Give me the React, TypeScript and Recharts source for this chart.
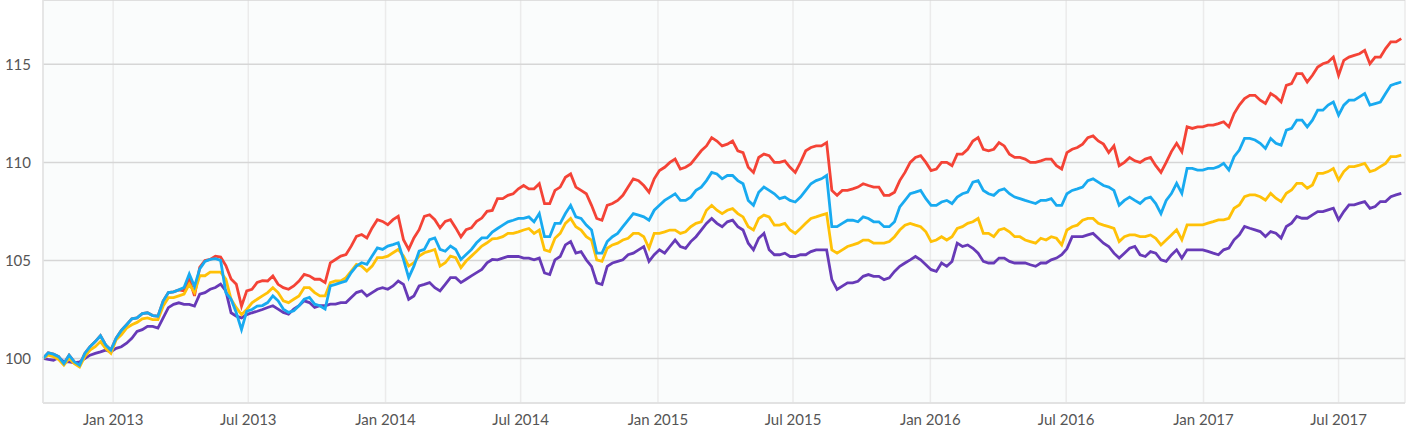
import { LineChart, Line, XAxis, YAxis, CartesianGrid } from 'recharts'

const DAY = 24 * 60 * 60 * 1000
const START = Date.UTC(2012, 8, 29)
const STEP_DAYS = 7

const TICKS = [
  Date.UTC(2013, 0, 1),
  Date.UTC(2013, 6, 1),
  Date.UTC(2014, 0, 1),
  Date.UTC(2014, 6, 1),
  Date.UTC(2015, 0, 1),
  Date.UTC(2015, 6, 1),
  Date.UTC(2016, 0, 1),
  Date.UTC(2016, 6, 1),
  Date.UTC(2017, 0, 1),
  Date.UTC(2017, 6, 1),
]
const MONTHS = ['Jan', 'Feb', 'Mar', 'Apr', 'May', 'Jun', 'Jul', 'Aug', 'Sep', 'Oct', 'Nov', 'Dec']

// readings every other week (weeks 0, 2, 4, ...)
const red = [
  100.0, 100.22, 99.74, 99.83, 100.26, 100.86, 100.69, 101.03, 101.72, 102.07,
  102.33, 102.16, 103.36, 103.5, 104.05, 104.65, 105.05, 105.17, 104.05, 102.67,
  103.53, 103.97, 104.21, 103.61, 103.7, 104.29, 104.04, 103.87, 105.05, 105.3,
  106.23, 106.15, 107.08, 106.82, 107.25, 105.56, 106.57, 107.33, 106.66, 107.08,
  106.2, 106.66, 107.16, 107.55, 108.15, 108.4, 108.82, 108.65, 107.9, 108.57,
  109.24, 108.74, 108.4, 107.14, 107.81, 108.06, 108.74, 109.07, 108.48, 109.58,
  110.0, 109.66, 109.92, 110.59, 111.26, 110.84, 111.09, 110.5, 109.49, 110.42,
  110.0, 110.08, 109.49, 110.59, 110.84, 111.01, 108.32, 108.57, 108.74, 108.82,
  108.74, 108.32, 109.07, 110.0, 110.34, 109.58, 110.0, 109.83, 110.42, 111.09,
  110.67, 110.67, 110.84, 110.25, 110.17, 110.0, 110.17, 109.83, 110.5, 110.76,
  111.26, 111.09, 110.5, 109.83, 110.25, 110.0, 110.25, 109.49, 110.55, 110.54,
  111.73, 111.81, 111.9, 112.07, 112.49, 113.25, 113.42, 113.0, 113.34, 113.93,
  114.53, 114.1, 114.86, 115.12, 114.44, 115.37, 115.54, 115.03, 115.37, 116.14,
  116.31,
]
// readings for the weeks in between (weeks 1, 3, 5, ...)
const redMid = [
  100.29, 100.09, 100.17, 99.66, 100.6, 101.16, 100.43, 101.43, 102.02, 102.29,
  102.19, 102.93, 103.4, 103.45, 103.19, 105.0, 105.22, 104.74, 103.79, 103.45,
  103.88, 103.95, 103.78, 103.53, 103.95, 104.21, 104.04, 104.88, 105.22, 105.73,
  106.32, 106.66, 106.99, 107.08, 106.06, 106.15, 107.25, 107.08, 106.99, 106.66,
  106.57, 106.99, 107.5, 108.15, 108.32, 108.65, 108.65, 108.91, 107.9, 108.74,
  109.41, 108.57, 107.81, 107.05, 107.9, 108.32, 109.16, 108.82, 109.16, 109.75,
  110.17, 109.75, 110.25, 110.84, 111.09, 110.93, 110.59, 109.75, 110.25, 110.34,
  110.0, 109.75, 110.0, 110.76, 110.84, 108.57, 108.57, 108.65, 108.91, 108.74,
  108.32, 108.48, 109.49, 110.25, 110.0, 109.66, 110.0, 110.42, 110.67, 111.26,
  110.59, 111.01, 110.42, 110.25, 110.0, 110.08, 110.17, 109.66, 110.67, 110.93,
  111.35, 110.93, 110.84, 110.0, 110.08, 110.17, 109.83, 110.0, 110.97, 111.81,
  111.81, 111.9, 111.98, 111.81, 112.92, 113.42, 113.17, 113.51, 113.08, 114.02,
  114.53, 114.44, 115.03, 115.37, 115.2, 115.46, 115.71, 115.37, 115.8, 116.14,
]

const blue = [
  100.0, 100.22, 99.74, 99.83, 100.26, 100.86, 100.69, 101.03, 101.72, 102.07,
  102.33, 102.16, 103.36, 103.5, 104.31, 104.57, 105.05, 105.0, 103.02, 101.47,
  102.5, 102.7, 103.19, 102.52, 102.43, 103.02, 102.77, 102.52, 103.78, 103.95,
  104.71, 104.8, 105.64, 105.73, 105.9, 104.12, 105.47, 106.06, 105.56, 105.73,
  105.05, 105.56, 106.15, 106.45, 106.8, 107.05, 107.14, 106.97, 106.21, 106.89,
  107.39, 107.22, 106.8, 105.37, 105.96, 106.38, 107.05, 107.31, 107.05, 107.81,
  108.23, 108.06, 108.23, 108.74, 109.49, 109.16, 109.33, 108.91, 107.81, 108.74,
  108.4, 108.23, 107.98, 108.57, 109.07, 109.33, 106.72, 107.05, 106.97, 107.14,
  106.97, 106.72, 107.73, 108.4, 108.57, 107.81, 107.98, 107.9, 108.4, 108.99,
  108.57, 108.32, 108.65, 108.23, 108.06, 107.9, 108.06, 107.81, 108.4, 108.65,
  109.07, 108.99, 108.74, 107.81, 108.23, 107.9, 108.23, 107.39, 108.41, 108.42,
  109.69, 109.61, 109.69, 109.95, 110.29, 111.22, 111.14, 110.71, 110.97, 111.64,
  112.15, 111.81, 112.66, 112.92, 112.41, 113.17, 113.34, 112.92, 113.08, 113.93,
  114.1,
]
const blueMid = [
  100.29, 100.09, 100.17, 99.66, 100.6, 101.16, 100.43, 101.43, 102.02, 102.29,
  102.19, 102.93, 103.4, 103.62, 103.67, 104.95, 105.09, 103.36, 102.33, 102.41,
  102.67, 102.85, 102.94, 102.35, 102.69, 103.11, 102.69, 103.7, 103.87, 104.38,
  104.88, 105.22, 105.56, 105.81, 105.05, 104.71, 105.56, 106.15, 105.47, 105.56,
  105.3, 105.9, 106.15, 106.63, 106.97, 107.14, 107.22, 107.39, 106.21, 106.89,
  107.81, 107.14, 106.55, 105.37, 106.21, 106.72, 107.39, 107.22, 107.56, 108.06,
  108.4, 108.06, 108.57, 109.07, 109.41, 109.33, 109.07, 108.06, 108.48, 108.57,
  108.15, 108.06, 108.23, 108.91, 109.16, 106.72, 106.89, 107.05, 107.22, 106.97,
  106.72, 106.97, 108.06, 108.48, 108.15, 107.81, 108.06, 108.23, 108.48, 109.07,
  108.4, 108.57, 108.4, 108.15, 107.98, 108.06, 108.15, 107.81, 108.57, 108.74,
  109.16, 108.82, 108.57, 108.06, 108.06, 108.15, 107.9, 108.06, 108.93, 109.69,
  109.61, 109.69, 109.78, 109.61, 110.63, 111.22, 110.97, 111.22, 110.88, 111.73,
  112.15, 112.15, 112.66, 113.08, 112.92, 113.17, 113.51, 113.0, 113.51, 114.02,
]

const yellow = [
  100.0, 100.09, 99.66, 99.74, 100.09, 100.6, 100.5, 100.95, 101.55, 101.84,
  102.07, 101.98, 103.1, 103.19, 103.79, 104.22, 104.4, 104.4, 103.02, 102.24,
  102.84, 103.19, 103.61, 102.94, 103.02, 103.61, 103.36, 103.19, 103.95, 104.12,
  104.8, 104.46, 105.14, 105.22, 105.56, 104.71, 105.22, 105.47, 104.71, 105.22,
  104.63, 105.22, 105.73, 106.1, 106.21, 106.38, 106.55, 106.38, 105.54, 106.13,
  106.89, 106.72, 106.21, 105.03, 105.62, 105.88, 106.13, 106.38, 105.62, 106.38,
  106.55, 106.38, 106.72, 106.97, 107.81, 107.39, 107.64, 107.22, 106.55, 107.31,
  106.8, 106.89, 106.38, 106.89, 107.22, 107.39, 105.37, 105.71, 105.88, 106.04,
  105.88, 105.96, 106.55, 106.89, 106.72, 105.96, 106.21, 106.21, 106.72, 106.97,
  106.38, 106.21, 106.63, 106.21, 106.04, 105.88, 106.04, 106.13, 106.55, 106.8,
  107.14, 106.89, 106.72, 105.96, 106.3, 106.21, 106.3, 105.79, 106.3, 106.05,
  106.81, 106.81, 106.98, 107.07, 107.66, 108.25, 108.34, 108.08, 108.17, 108.42,
  108.93, 108.68, 109.44, 109.53, 109.1, 109.78, 109.86, 109.53, 109.78, 110.29,
  110.37,
]
const yellowMid = [
  100.17, 99.95, 100.0, 99.57, 100.43, 100.86, 100.26, 101.21, 101.72, 102.02,
  101.98, 102.67, 103.1, 103.28, 103.36, 104.22, 104.4, 104.05, 102.59, 102.5,
  103.02, 103.36, 103.36, 102.85, 103.19, 103.61, 103.19, 103.87, 103.95, 104.46,
  104.71, 104.71, 105.14, 105.39, 105.22, 104.88, 105.39, 105.56, 104.88, 105.14,
  104.97, 105.47, 105.9, 106.13, 106.38, 106.46, 106.63, 106.55, 105.45, 106.38,
  107.14, 106.55, 106.04, 104.95, 105.79, 106.04, 106.38, 106.21, 106.38, 106.46,
  106.55, 106.46, 106.89, 107.56, 107.56, 107.56, 107.39, 106.72, 107.14, 107.22,
  106.8, 106.55, 106.63, 107.14, 107.31, 105.54, 105.54, 105.79, 106.04, 105.88,
  105.88, 106.21, 106.8, 106.8, 106.46, 106.04, 106.04, 106.63, 106.89, 107.14,
  106.38, 106.55, 106.46, 106.21, 105.96, 106.13, 106.21, 105.79, 106.72, 107.05,
  107.14, 106.8, 106.63, 106.21, 106.3, 106.21, 106.13, 106.04, 106.56, 106.81,
  106.81, 106.9, 107.07, 107.15, 107.83, 108.34, 108.25, 108.42, 108.0, 108.59,
  108.93, 108.85, 109.44, 109.69, 109.53, 109.78, 109.95, 109.61, 109.95, 110.29,
]

const purple = [
  100.0, 99.91, 99.83, 99.78, 100.0, 100.26, 100.43, 100.52, 100.78, 101.38,
  101.64, 101.55, 102.59, 102.84, 102.76, 103.28, 103.53, 103.79, 102.33, 102.07,
  102.33, 102.5, 102.69, 102.35, 102.52, 102.94, 102.6, 102.69, 102.77, 102.85,
  103.36, 103.19, 103.53, 103.53, 103.95, 103.02, 103.7, 103.87, 103.45, 104.12,
  103.87, 104.21, 104.54, 105.05, 105.12, 105.2, 105.12, 105.03, 104.36, 105.03,
  105.79, 105.37, 105.03, 103.86, 104.7, 104.95, 105.29, 105.54, 104.95, 105.54,
  105.71, 105.71, 105.96, 106.55, 107.14, 106.72, 107.05, 106.55, 105.54, 106.38,
  105.29, 105.37, 105.2, 105.29, 105.54, 105.54, 103.52, 103.86, 103.94, 104.28,
  104.19, 104.11, 104.7, 105.03, 105.03, 104.53, 104.87, 104.95, 105.71, 105.62,
  104.95, 104.87, 105.12, 104.87, 104.87, 104.7, 104.87, 105.12, 105.6, 106.21,
  106.3, 106.13, 105.71, 105.12, 105.62, 105.29, 105.45, 105.03, 105.28, 105.12,
  105.54, 105.54, 105.37, 105.54, 106.05, 106.73, 106.56, 106.22, 106.39, 106.73,
  107.24, 107.15, 107.49, 107.58, 107.07, 107.83, 107.92, 107.66, 108.0, 108.25,
  108.42,
]
const purpleMid = [
  99.95, 100.05, 99.83, 99.83, 100.17, 100.34, 100.34, 100.6, 101.03, 101.47,
  101.64, 102.07, 102.76, 102.76, 102.67, 103.36, 103.62, 103.45, 102.16, 102.24,
  102.41, 102.6, 102.52, 102.26, 102.69, 102.85, 102.69, 102.77, 102.85, 103.11,
  103.45, 103.36, 103.61, 103.7, 103.78, 103.19, 103.78, 103.61, 103.78, 104.12,
  104.04, 104.38, 104.88, 105.03, 105.2, 105.2, 105.12, 105.12, 104.28, 105.2,
  105.96, 105.45, 104.7, 103.77, 104.87, 105.03, 105.37, 105.71, 105.29, 105.37,
  106.04, 105.62, 106.21, 106.89, 106.89, 106.97, 106.72, 105.88, 106.13, 105.54,
  105.29, 105.2, 105.29, 105.45, 105.54, 104.02, 103.69, 103.86, 104.19, 104.19,
  104.02, 104.44, 104.87, 105.2, 104.78, 104.44, 104.7, 105.88, 105.79, 105.37,
  104.87, 105.12, 104.95, 104.87, 104.78, 104.87, 105.03, 105.29, 106.21, 106.21,
  106.38, 105.88, 105.37, 105.37, 105.71, 105.2, 105.37, 104.95, 105.54, 105.54,
  105.54, 105.46, 105.29, 105.63, 106.31, 106.64, 106.47, 106.47, 106.14, 106.9,
  107.15, 107.32, 107.49, 107.66, 107.49, 107.83, 108.0, 107.75, 108.0, 108.34,
]

const pick = (even: number[], odd: number[], k: number) =>
  k % 2 === 0 ? even[k / 2] : odd[(k - 1) / 2]

const data = Array.from({ length: red.length + redMid.length }, (_v, k) => ({
  date: START + k * STEP_DAYS * DAY,
  red: pick(red, redMid, k),
  blue: pick(blue, blueMid, k),
  yellow: pick(yellow, yellowMid, k),
  purple: pick(purple, purpleMid, k),
}))

const formatTick = (t: number) => {
  const d = new Date(t)
  return `${MONTHS[d.getUTCMonth()]} ${d.getUTCFullYear()}`
}

const tickStyle = { fill: '#555', fontSize: 15, fontFamily: 'Lato, sans-serif' }

export default function App() {
  return (
    <div style={{ position: 'absolute', left: 0, top: 0, background: '#fff' }}>
      <LineChart
        width={1419}
        height={440}
        data={data}
        margin={{ top: 0, right: 14, bottom: 0, left: 0 }}
      >
        <CartesianGrid
          horizontal={false}
          stroke="#ebebeb"
          strokeWidth={1.5}
          fill="#fafcfc"
        />
        <CartesianGrid vertical={false} stroke="#d6d6d6" strokeWidth={1.5} />
        <XAxis
          dataKey="date"
          type="number"
          scale="time"
          domain={[START, START + 1825 * DAY]}
          ticks={TICKS}
          tickFormatter={formatTick}
          tick={tickStyle}
          tickLine={false}
          axisLine={{ stroke: '#e3e3e3', strokeWidth: 1.5 }}
          height={37}
          tickMargin={5}
        />
        <YAxis
          type="number"
          domain={[97.73, 118.28]}
          ticks={[100, 105, 110, 115]}
          allowDataOverflow
          tick={tickStyle}
          tickLine={false}
          axisLine={{ stroke: '#e3e3e3', strokeWidth: 1.5 }}
          width={43}
          tickMargin={6}
        />
        <Line dataKey="red" stroke="#f44336" strokeWidth={2.8} dot={false} isAnimationActive={false} />
        <Line dataKey="purple" stroke="#673ab7" strokeWidth={2.8} dot={false} isAnimationActive={false} />
        <Line dataKey="yellow" stroke="#ffc107" strokeWidth={2.8} dot={false} isAnimationActive={false} />
        <Line dataKey="blue" stroke="#18aaf0" strokeWidth={2.8} dot={false} isAnimationActive={false} />
      </LineChart>
    </div>
  )
}
